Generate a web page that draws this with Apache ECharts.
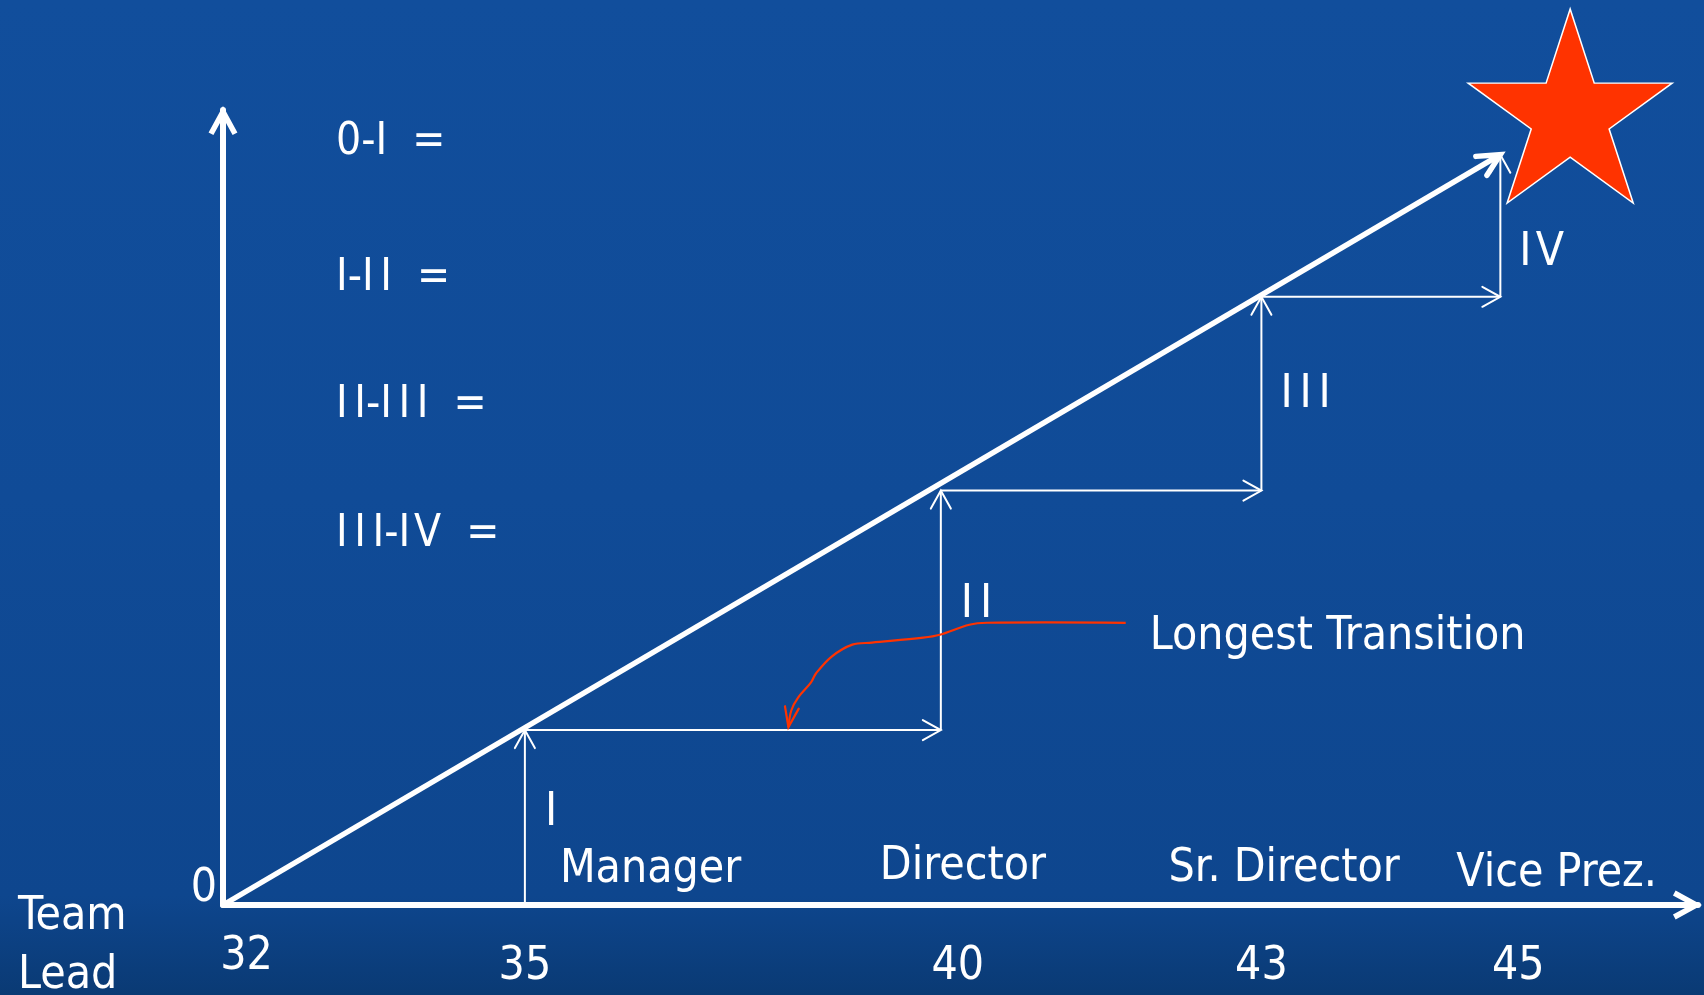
<!DOCTYPE html>
<html>
<head>
<meta charset="utf-8">
<script src="https://cdn.jsdelivr.net/npm/echarts@6/dist/echarts.min.js"></script>
<style>
html, body { margin: 0; padding: 0; background: #104b97; }
#chart { width: 1704px; height: 995px; }
</style>
</head>
<body>
<div id="chart"></div>
<script>
// ---------------- data ----------------
const ages = ['32', '35', '40', '43', '45'];
const titles = ['Team\nLead', 'Manager', 'Director', 'Sr. Director', 'Vice Prez.'];
const stagePos = [0, 3.07, 7.30, 10.56, 12.99];     // where each promotion sits along the career axis
const stageLevel = [0, 1.76, 4.17, 6.12, 7.55];     // level reached at each promotion
const stepNames = ['I', 'II', 'III', 'IV'];
const ratioLines = ['0-I  =', 'I-II  =', 'II-III  =', 'III-IV  ='];
const calloutText = 'Longest Transition';
const calloutX = [9.18, 7.77, 7.59, 7.29, 7.12, 6.60, 6.40, 6.19, 6.03, 5.98, 5.85, 5.78, 5.75];
const calloutY = [2.84, 2.84, 2.82, 2.72, 2.69, 2.64, 2.62, 2.50, 2.33, 2.24, 2.09, 1.96, 1.79];
const goal = [13.70, 8.04];
const originLabel = '0';

// ---------------- styles / layout ----------------
const FONT = "'DejaVu Sans Condensed', 'Liberation Sans Narrow', 'DejaVu Sans', sans-serif";
const WHITE = '#ffffff';
const RED = '#ff3300';
const FS = 46;
const ageShift = [[23.5, 0], [0, 20], [17, 20], [0, 20], [18, 20]];   // [dx, top padding]
const titleOffset = [[-205, 42], [35, -35], [-61, -37.5], [-93, -35.5], [-44, -31]];
const stepLabelOffset = [[20, -4.5], [20, -5.5], [19, 1.5], [19, 27]];
const ratioCenterY = [143, 278.5, 406, 534.5];

// Roman numerals in the slide font are widely spaced: add a small gap between them
function romanSpacing(t) { return t.replace(/I(?=I)/g, 'I\u2006').replace(/I(?=V)/g, 'I\u200A'); }

const chevron = 'path://M14.41,0L28.82,26.42L24,29.06L14.41,11.48L4.82,29.06L0,26.42Z';

function starPath() {
  const pts = [];
  for (let k = 0; k < 10; k++) {
    const r = k % 2 === 0 ? 100 : 38.2;
    const a = -Math.PI / 2 + k * Math.PI / 5;
    pts.push((r * Math.cos(a)).toFixed(2) + ',' + (r * Math.sin(a)).toFixed(2));
  }
  return 'path://M' + pts.join('L') + 'Z';
}

function arrowShapes(pts, opt) {
  const n = pts.length;
  const tip = pts[n - 1], prev = pts[n - 2];
  const dx = tip[0] - prev[0], dy = tip[1] - prev[1];
  const len = Math.hypot(dx, dy) || 1;
  const ux = dx / len, uy = dy / len;
  const bx = tip[0] - ux * opt.head, by = tip[1] - uy * opt.head;
  const a1 = [bx - uy * opt.half, by + ux * opt.half];
  const a2 = [bx + uy * opt.half, by - ux * opt.half];
  const shaft = pts.slice();
  shaft[n - 1] = [tip[0] - ux * (opt.trim || 0), tip[1] - uy * (opt.trim || 0)];
  return [
    { type: 'polyline', shape: { points: shaft, smooth: opt.smooth || 0 },
      style: { stroke: opt.color, lineWidth: opt.width, fill: null, lineCap: 'butt' } },
    { type: 'polyline', shape: { points: [a1, tip, a2] },
      style: { stroke: opt.color, lineWidth: opt.headWidth || opt.width, fill: null, lineJoin: 'miter', lineCap: 'round' } }
  ];
}

// staircase segments built from the promotion data
const stepSegments = [];
for (let i = 1; i < stagePos.length; i++) {
  stepSegments.push([stagePos[i], stageLevel[i - 1], stagePos[i], stageLevel[i]]);
  if (i < stagePos.length - 1) {
    stepSegments.push([stagePos[i], stageLevel[i], stagePos[i + 1], stageLevel[i]]);
  }
}
const last = stagePos.length - 1;

const ageRich = {};
ages.forEach(function (a, i) {
  ageRich['a' + i] = {
    fontSize: FS, fontFamily: FONT, color: WHITE, lineHeight: 46,
    padding: [ageShift[i][1], 0, 0, 2 * ageShift[i][0]]
  };
});

const chart = echarts.init(document.getElementById('chart'), null, { renderer: 'canvas' });
chart.setOption({
  animation: false,
  backgroundColor: {
    type: 'linear', x: 0, y: 0, x2: 0, y2: 1,
    colorStops: [
      { offset: 0, color: '#114e9c' },
      { offset: 0.5, color: '#104b97' },
      { offset: 0.9, color: '#0e468e' },
      { offset: 1, color: '#0a3a74' }
    ]
  },
  grid: { left: 223, right: 6, top: 110, bottom: 90, containLabel: false },
  xAxis: {
    type: 'value', min: 0, max: 15,
    splitLine: { show: false },
    axisTick: { show: false },
    axisLine: {
      show: true, onZero: false,
      lineStyle: { color: WHITE, width: 6 },
      symbol: ['none', chevron], symbolSize: [28.82, 29.06], symbolOffset: [0, -10.5]
    },
    axisLabel: {
      customValues: stagePos,
      margin: 29.5,
      fontSize: FS, fontFamily: FONT, color: WHITE,
      formatter: function (v) {
        let idx = 0, best = Infinity;
        stagePos.forEach(function (p, i) { if (Math.abs(p - v) < best) { best = Math.abs(p - v); idx = i; } });
        return '{a' + idx + '|' + ages[idx] + '}';
      },
      rich: ageRich
    }
  },
  yAxis: {
    type: 'value', min: 0, max: 8, interval: 8,
    splitLine: { show: false },
    axisTick: { show: false },
    axisLine: {
      show: true, onZero: false,
      lineStyle: { color: WHITE, width: 6 },
      symbol: ['none', chevron], symbolSize: [28.82, 29.06], symbolOffset: [0, -10.5]
    },
    axisLabel: {
      margin: 6, fontSize: FS, fontFamily: FONT, color: WHITE,
      verticalAlign: 'bottom', lineHeight: 32,
      formatter: function (v) { return v === 0 ? originLabel : ''; }
    }
  },
  graphic: ratioLines.map(function (t, i) {
    return {
      type: 'text', x: 336, y: ratioCenterY[i], z: 50,
      style: { text: romanSpacing(t), fill: WHITE, fontSize: 44, fontFamily: FONT, align: 'left', verticalAlign: 'middle' }
    };
  }),
  series: [
    {
      name: 'diagonal', type: 'custom', z: 4,
      data: [[stagePos[0], stageLevel[0], stagePos[last], stageLevel[last]]],
      encode: { x: [0, 2], y: [1, 3] },
      renderItem: function (params, api) {
        const p1 = api.coord([api.value(0), api.value(1)]);
        const p2 = api.coord([api.value(2), api.value(3)]);
        return { type: 'group', children: arrowShapes([p1, p2], { color: WHITE, width: 5.5, head: 22, half: 11, headWidth: 5.5, trim: 3 }) };
      }
    },
    {
      name: 'steps', type: 'custom', z: 3,
      data: stepSegments,
      encode: { x: [0, 2], y: [1, 3] },
      renderItem: function (params, api) {
        const p1 = api.coord([api.value(0), api.value(1)]);
        const p2 = api.coord([api.value(2), api.value(3)]);
        return { type: 'group', children: arrowShapes([p1, p2], { color: WHITE, width: 2, head: 18, half: 10, headWidth: 2 }) };
      }
    },
    {
      name: 'callout', type: 'custom', z: 5,
      data: [[calloutX[0], calloutY[0]]],
      encode: { x: 0, y: 1 },
      renderItem: function (params, api) {
        const pts = calloutX.map(function (x, i) { return api.coord([x, calloutY[i]]); });
        const shapes = arrowShapes(pts, { color: RED, width: 2.2, head: 20, half: 7, headWidth: 2.2, smooth: 0.35 });
        shapes.push({
          type: 'text', x: pts[0][0] + 24, y: pts[0][1] + 14,
          style: { text: calloutText, fill: WHITE, fontSize: FS, fontFamily: FONT, align: 'left', verticalAlign: 'middle' }
        });
        return { type: 'group', children: shapes };
      }
    },
    {
      name: 'titles', type: 'scatter', z: 6, clip: false,
      symbolSize: 1, itemStyle: { color: 'transparent', opacity: 1 },
      data: stagePos.map(function (p, i) { return { value: [p, 0], name: titles[i] }; }),
      label: {
        show: true, position: 'inside', align: 'left', verticalAlign: 'middle', opacity: 1,
        color: WHITE, fontSize: FS, fontFamily: FONT, lineHeight: 59,
        formatter: function (p) { return titles[p.dataIndex]; }
      },
      labelLayout: function (params) {
        const o = titleOffset[params.dataIndex];
        return { dx: o[0], dy: o[1] };
      }
    },
    {
      name: 'stepNames', type: 'scatter', z: 6, clip: false,
      symbolSize: 1, itemStyle: { color: 'transparent', opacity: 1 },
      data: stepNames.map(function (s, i) {
        return { value: [stagePos[i + 1], (stageLevel[i] + stageLevel[i + 1]) / 2], name: s };
      }),
      label: {
        show: true, position: 'inside', align: 'left', verticalAlign: 'middle', opacity: 1,
        color: WHITE, fontSize: FS, fontFamily: FONT,
        formatter: function (p) { return romanSpacing(stepNames[p.dataIndex]); }
      },
      labelLayout: function (params) {
        const o = stepLabelOffset[params.dataIndex];
        return { dx: o[0], dy: o[1] };
      }
    },
    {
      name: 'goal', type: 'scatter', z: 7, clip: false,
      symbol: starPath(), symbolSize: [204, 194],
      itemStyle: { color: RED, borderColor: WHITE, borderWidth: 1.5, opacity: 1 },
      data: [goal]
    }
  ]
});
</script>
</body>
</html>
